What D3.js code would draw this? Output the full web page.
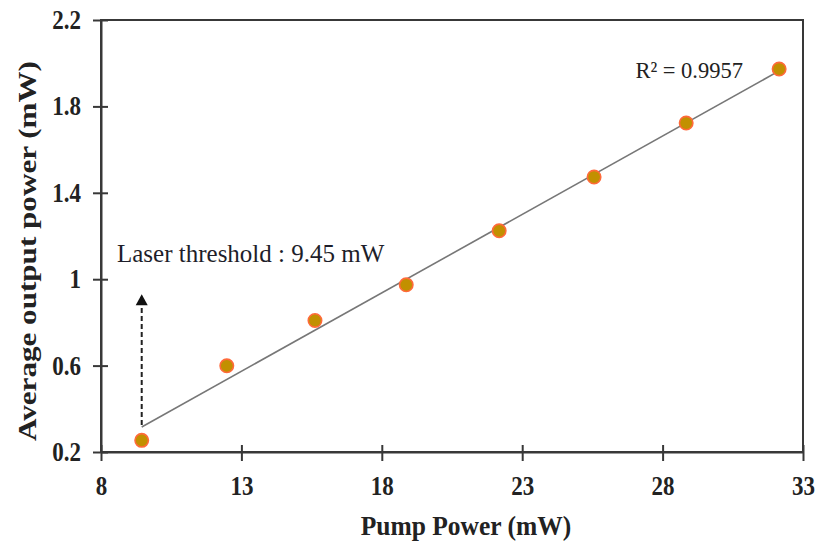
<!DOCTYPE html>
<html>
<head>
<meta charset="utf-8">
<script src="https://cdn.jsdelivr.net/npm/d3@7"></script>
<style>
  html, body { margin: 0; padding: 0; background: #fff; }
  svg { display: block; }
</style>
</head>
<body>
<svg id="chart" width="821" height="546"></svg>
<script>
const pumpPower = [9.45, 12.48, 15.62, 18.87, 22.18, 25.56, 28.84, 32.15];
const outputPower = [0.254, 0.599, 0.809, 0.974, 1.224, 1.473, 1.723, 1.973];
const xTicks = [8, 13, 18, 23, 28, 33];
const yTicks = [0.2, 0.6, 1, 1.4, 1.8, 2.2];
const thresholdX = 9.45;
const arrowTopY = 0.93;
const r2Label = "R² = 0.9957";
const thresholdLabel = "Laser threshold : 9.45 mW";

const svg = d3.select("#chart");
const margin = { left: 101, right: 18, top: 20, bottom: 94 };
const W = 821, H = 546;
const x = d3.scaleLinear().domain([8, 33]).range([margin.left, W - margin.right]);
const y = d3.scaleLinear().domain([0.2, 2.2]).range([H - margin.bottom, margin.top]);

const serif = "'Liberation Serif', 'Times New Roman', serif";
const ink = "#222";

// frame
svg.append("rect")
  .attr("x", x(8)).attr("y", y(2.2))
  .attr("width", x(33) - x(8)).attr("height", y(0.2) - y(2.2))
  .attr("fill", "none").attr("stroke", "#383838").attr("stroke-width", 2);

// axes
const xAxis = d3.axisBottom(x).tickValues(xTicks).tickSize(0).tickFormat(d3.format("d"));
const gx = svg.append("g").attr("transform", `translate(0,${y(0.2)})`).call(xAxis);
gx.select(".domain").attr("stroke", "#383838").attr("stroke-width", 2);
gx.selectAll(".tick text")
  .attr("y", 0).attr("dy", 0)
  .attr("transform", "translate(0,43) scale(1,1.15)")
  .attr("font-family", serif).attr("font-weight", "bold").attr("font-size", 23).attr("fill", ink);
gx.selectAll(".tick").append("line").attr("y1", -7).attr("y2", 9).attr("stroke", "#383838").attr("stroke-width", 2);

const yAxis = d3.axisLeft(y).tickValues(yTicks).tickSize(0).tickFormat(d => d3.format("")(d));
const gy = svg.append("g").attr("transform", `translate(${x(8)},0)`).call(yAxis);
gy.select(".domain").attr("stroke", "#383838").attr("stroke-width", 2);
gy.selectAll(".tick text")
  .attr("x", 0).attr("dy", 0).attr("text-anchor", "end")
  .attr("transform", "translate(-20,8.5) scale(1,1.15)")
  .attr("font-family", serif).attr("font-weight", "bold").attr("font-size", 23).attr("fill", ink);
gy.selectAll(".tick").append("line").attr("x1", -8).attr("x2", 7).attr("stroke", "#383838").attr("stroke-width", 2);

// regression
const n = pumpPower.length;
const mx = d3.mean(pumpPower), my = d3.mean(outputPower);
let sxy = 0, sxx = 0;
for (let i = 0; i < n; i++) { sxy += (pumpPower[i] - mx) * (outputPower[i] - my); sxx += (pumpPower[i] - mx) ** 2; }
const slope = sxy / sxx, intercept = my - slope * mx;
const fx0 = thresholdX, fx1 = pumpPower[n - 1];
svg.append("line")
  .attr("x1", x(fx0)).attr("y1", y(intercept + slope * fx0))
  .attr("x2", x(fx1)).attr("y2", y(intercept + slope * fx1))
  .attr("stroke", "#777").attr("stroke-width", 1.6);

// dashed arrow
svg.append("line")
  .attr("x1", x(thresholdX)).attr("y1", y(intercept + slope * thresholdX) - 2)
  .attr("x2", x(thresholdX)).attr("y2", y(arrowTopY) + 10)
  .attr("stroke", "#222").attr("stroke-width", 2).attr("stroke-dasharray", "5,3");
svg.append("path")
  .attr("d", `M${x(thresholdX) - 6},${y(arrowTopY) + 11} L${x(thresholdX)},${y(arrowTopY)} L${x(thresholdX) + 6},${y(arrowTopY) + 11} Z`)
  .attr("fill", "#111");

// points
svg.append("g").selectAll("circle").data(pumpPower).join("circle")
  .attr("cx", d => x(d)).attr("cy", (d, i) => y(outputPower[i]))
  .attr("r", 6.7).attr("fill", "#C29000").attr("stroke", "#FF6A3A").attr("stroke-width", 1.6);

// annotations
svg.append("text").attr("x", 117).attr("y", 262)
  .attr("font-family", serif).attr("font-size", 25).attr("fill", "#1e1e2a")
  .text(thresholdLabel);
svg.append("text").attr("x", 743).attr("y", 78).attr("text-anchor", "end")
  .attr("font-family", serif).attr("font-size", 22.5).attr("fill", ink)
  .text(r2Label);

// axis titles
svg.append("text").attr("transform", "translate(466,535) scale(1,1.06)").attr("text-anchor", "middle")
  .attr("font-family", serif).attr("font-weight", "bold").attr("font-size", 25.5).attr("fill", ink)
  .text("Pump Power (mW)");
svg.append("text").attr("transform", "translate(36,251) rotate(-90) scale(1.245,1)")
  .attr("text-anchor", "middle")
  .attr("font-family", serif).attr("font-weight", "bold").attr("font-size", 25).attr("fill", ink)
  .text("Average output power (mW)");
</script>
</body>
</html>
